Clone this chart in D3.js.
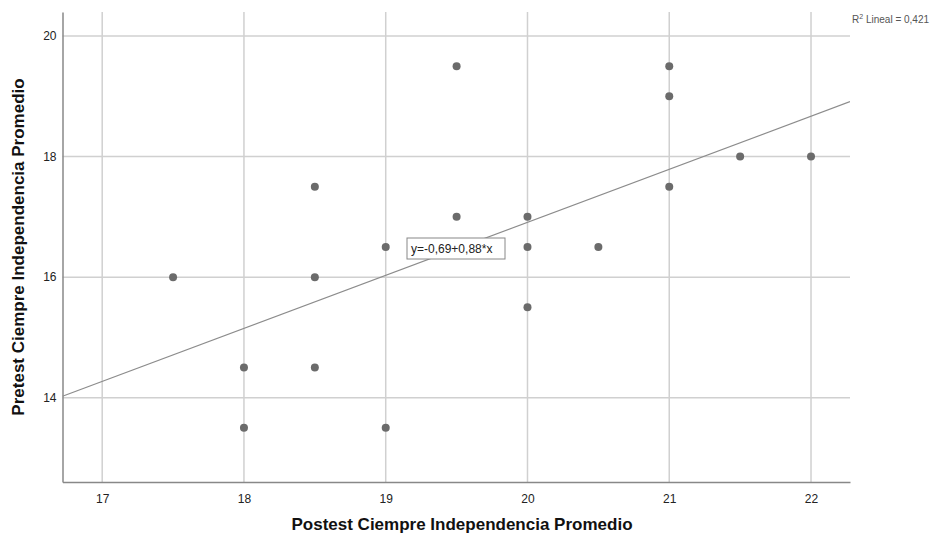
<!DOCTYPE html>
<html><head><meta charset="utf-8">
<script src="https://cdn.jsdelivr.net/npm/d3@7"></script>
<style>body{margin:0;background:#fff;font-family:"Liberation Sans",Arial,sans-serif}</style>
</head><body><svg id="c" width="944" height="535"></svg>
<script>
const postest = [17.5,18,18,18.5,18.5,18.5,19,19,19.5,19.5,20,20,20,20.5,21,21,21,21.5,22];
const pretest = [16,14.5,13.5,17.5,16,14.5,16.5,13.5,19.5,17,17,16.5,15.5,16.5,19.5,19,17.5,18,18];
const xTicks = [17,18,19,20,21,22];
const yTicks = [14,16,18,20];
const intercept = -0.69, slope = 0.88;
const fitLabel = "y=-0,69+0,88*x";
const r2Label = "0,421";
const xTitle = "Postest Ciempre Independencia Promedio";
const yTitle = "Pretest Ciempre Independencia Promedio";

const svg = d3.select("#c");
const L=62.5,R=850,T=12,B=482;
const x = d3.scaleLinear().domain([16.72,22.275]).range([L,R]);
const y = d3.scaleLinear().domain([12.6,20.4]).range([B,T]);
const f="'Liberation Sans',Arial,sans-serif";

// grid
svg.append("g").selectAll("line").data(xTicks).join("line")
 .attr("x1",d=>x(d)).attr("x2",d=>x(d)).attr("y1",T).attr("y2",B)
 .attr("stroke","#d0d0d0").attr("stroke-width",1.5);
svg.append("g").selectAll("line").data(yTicks).join("line")
 .attr("x1",L).attr("x2",R).attr("y1",d=>y(d)).attr("y2",d=>y(d))
 .attr("stroke","#d0d0d0").attr("stroke-width",1.5);

// axes
const xa = svg.append("g").attr("transform",`translate(0,${B})`)
 .call(d3.axisBottom(x).tickValues(xTicks).tickSize(0).tickPadding(12).tickFormat(d3.format("d")));
xa.select(".domain").attr("stroke","#888").attr("stroke-width",1.5);
xa.selectAll("text").attr("font-family",f).attr("font-size",12).attr("fill","#222");
const ya = svg.append("g").attr("transform",`translate(${L},0)`)
 .call(d3.axisLeft(y).tickValues(yTicks).tickSize(0).tickPadding(6).tickFormat(d3.format("d")));
ya.select(".domain").attr("stroke","#888").attr("stroke-width",1.5);
ya.selectAll("text").attr("font-family",f).attr("font-size",12).attr("fill","#222");

// fit line
svg.append("clipPath").attr("id","pc").append("rect").attr("x",L).attr("y",T).attr("width",R-L).attr("height",B-T);
const x0=x.domain()[0], x1=x.domain()[1];
svg.append("line").attr("clip-path","url(#pc)")
 .attr("x1",x(x0)).attr("y1",y(intercept+slope*x0))
 .attr("x2",x(x1)).attr("y2",y(intercept+slope*x1))
 .attr("stroke","#8c8c8c").attr("stroke-width",1.2);

// points
svg.append("g").selectAll("circle").data(postest).join("circle")
 .attr("cx",d=>x(d)).attr("cy",(d,i)=>y(pretest[i])).attr("r",4)
 .attr("fill","#6b6b6b");

// fit label
const lx=407, ly=238;
svg.append("rect").attr("x",lx).attr("y",ly).attr("width",98).attr("height",21)
 .attr("fill","#fff").attr("stroke","#888").attr("stroke-width",1);
svg.append("text").attr("x",lx+4).attr("y",ly+15).attr("font-family",f).attr("font-size",12).attr("fill","#222").text(fitLabel);

// R2 label
const r2=svg.append("text").attr("x",852).attr("y",23).attr("font-family",f).attr("font-size",10).attr("fill","#555");
r2.append("tspan").text("R");
r2.append("tspan").attr("dy",-4).attr("font-size",7).text("2");
r2.append("tspan").attr("dy",4).text(" Lineal = "+r2Label);

// titles
svg.append("text").attr("x",462).attr("y",530).attr("text-anchor","middle")
 .attr("font-family",f).attr("font-weight","bold").attr("font-size",17).attr("fill","#111").text(xTitle);
svg.append("text").attr("transform",`translate(24,${(T+B)/2}) rotate(-90)`).attr("text-anchor","middle")
 .attr("font-family",f).attr("font-weight","bold").attr("font-size",17).attr("fill","#111").text(yTitle);
</script></body></html>
